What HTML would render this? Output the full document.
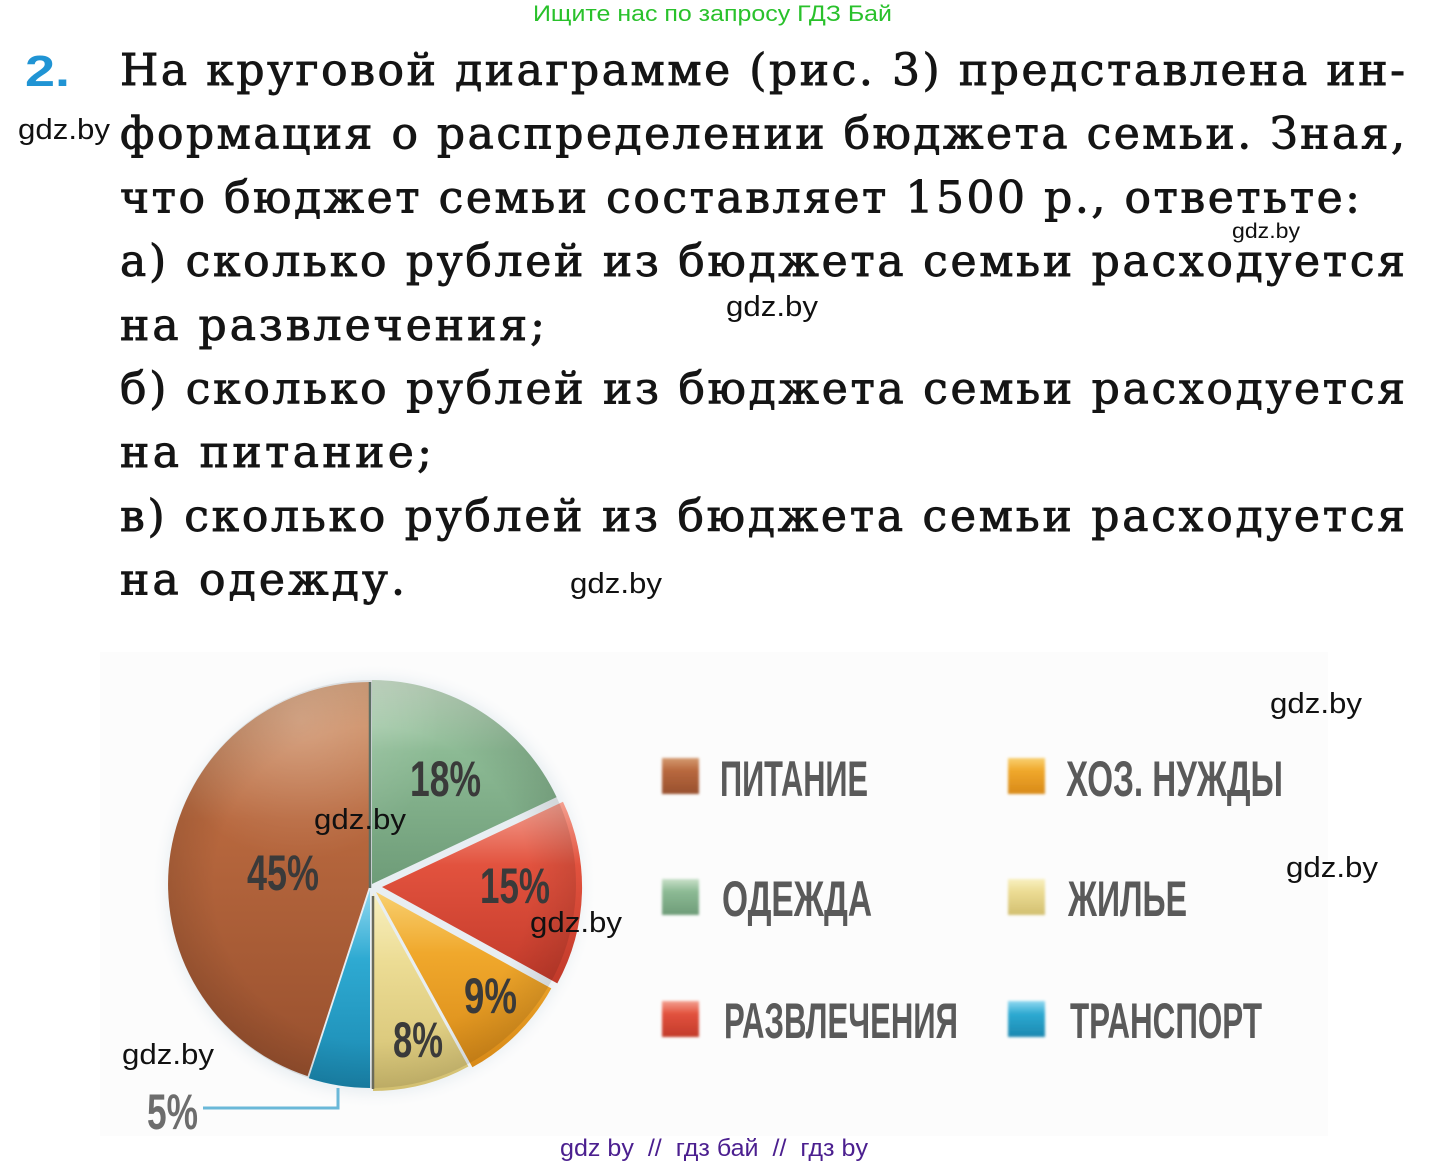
<!DOCTYPE html>
<html><head><meta charset="utf-8"><style>
html,body{margin:0;padding:0;background:#fff;}
svg{display:block;}
.t{font-family:"DejaVu Serif","Liberation Serif",serif;font-size:44px;fill:#151515;stroke:#151515;stroke-width:0.9px;}
.w{font-family:"Liberation Sans",sans-serif;font-size:29px;fill:#111;}
.lg{font-family:"Liberation Sans Narrow","Liberation Sans",sans-serif;font-weight:bold;font-size:50px;fill:#5a5a5a;}
.pl{font-family:"Liberation Sans Narrow","Liberation Sans",sans-serif;font-weight:bold;font-size:50px;fill:#3a3a3a;}
</style></head><body>
<svg width="1430" height="1165" viewBox="0 0 1430 1165" xmlns="http://www.w3.org/2000/svg">
<defs>
<radialGradient id="shade" cx="372" cy="884" r="210" gradientUnits="userSpaceOnUse">
<stop offset="0" stop-color="#000" stop-opacity="0"/>
<stop offset="0.75" stop-color="#000" stop-opacity="0"/>
<stop offset="1" stop-color="#000" stop-opacity="0.12"/>
</radialGradient>
<radialGradient id="hl" cx="300" cy="720" r="140" gradientUnits="userSpaceOnUse">
<stop offset="0" stop-color="#fff" stop-opacity="0.22"/>
<stop offset="1" stop-color="#fff" stop-opacity="0"/>
</radialGradient>
<filter id="bl" x="-20%" y="-20%" width="140%" height="140%"><feGaussianBlur stdDeviation="7"/></filter>
<filter id="sb" x="-30%" y="-30%" width="160%" height="160%"><feGaussianBlur stdDeviation="1.2"/></filter>
<linearGradient id="gBr" x1="0" y1="0" x2="0" y2="1"><stop offset="0" stop-color="#d49a70"/><stop offset="0.35" stop-color="#b8683e"/><stop offset="1" stop-color="#98502e"/></linearGradient>
<linearGradient id="gOr" x1="0" y1="0" x2="0" y2="1"><stop offset="0" stop-color="#f8d070"/><stop offset="0.35" stop-color="#f0a82c"/><stop offset="1" stop-color="#d88a18"/></linearGradient>
<linearGradient id="gGr" x1="0" y1="0" x2="0" y2="1"><stop offset="0" stop-color="#c8e0c8"/><stop offset="0.35" stop-color="#8cba94"/><stop offset="1" stop-color="#6e9c78"/></linearGradient>
<linearGradient id="gYe" x1="0" y1="0" x2="0" y2="1"><stop offset="0" stop-color="#f8f0c0"/><stop offset="0.35" stop-color="#ecdc94"/><stop offset="1" stop-color="#d2bf70"/></linearGradient>
<linearGradient id="gRe" x1="0" y1="0" x2="0" y2="1"><stop offset="0" stop-color="#f4a090"/><stop offset="0.35" stop-color="#e2523e"/><stop offset="1" stop-color="#c23a2a"/></linearGradient>
<linearGradient id="gBl" x1="0" y1="0" x2="0" y2="1"><stop offset="0" stop-color="#90d8f0"/><stop offset="0.35" stop-color="#2eaad2"/><stop offset="1" stop-color="#1a88b0"/></linearGradient>
</defs>

<!-- header -->
<text x="533" y="21" font-family="Liberation Sans, sans-serif" font-size="22" fill="#29c12b" textLength="359" lengthAdjust="spacingAndGlyphs">Ищите нас по запросу ГДЗ Бай</text>

<!-- number -->
<text x="25" y="86" font-family="Liberation Sans, sans-serif" font-weight="bold" font-size="44" fill="#2094d4" textLength="45" lengthAdjust="spacingAndGlyphs">2.</text>

<!-- body text -->
<text class="t" x="120" y="85" textLength="1285" lengthAdjust="spacing">На круговой диаграмме (рис. 3) представлена ин-</text>
<text class="t" x="120" y="148.7" textLength="1285" lengthAdjust="spacing">формация о распределении бюджета семьи. Зная,</text>
<text class="t" x="120" y="212.4" textLength="1240" lengthAdjust="spacing">что бюджет семьи составляет 1500 р., ответьте:</text>
<text class="t" x="120" y="276.1" textLength="1285" lengthAdjust="spacing">а) сколько рублей из бюджета семьи расходуется</text>
<text class="t" x="120" y="339.8" textLength="425" lengthAdjust="spacing">на развлечения;</text>
<text class="t" x="120" y="403.5" textLength="1285" lengthAdjust="spacing">б) сколько рублей из бюджета семьи расходуется</text>
<text class="t" x="120" y="467.2" textLength="312" lengthAdjust="spacing">на питание;</text>
<text class="t" x="120" y="530.9" textLength="1285" lengthAdjust="spacing">в) сколько рублей из бюджета семьи расходуется</text>
<text class="t" x="120" y="594.6" textLength="285" lengthAdjust="spacing">на одежду.</text>

<!-- chart background -->
<rect x="100" y="652" width="1228" height="484" fill="#fcfcfc"/>

<!-- pie halo -->
<circle cx="374" cy="886" r="208" fill="#e8eef2" filter="url(#bl)"/>

<!-- slices -->
<path d="M370,884 L307.6,1076.1 A202,202 0 0 1 370,682 Z" fill="url(#gBr)"/>
<path d="M372,884 L372,680 A204,204 0 0 1 556.6,797.1 Z" fill="url(#gGr)"/>
<path d="M382,887 L563,801.8 A200,200 0 0 1 557.3,983.4 Z" fill="url(#gRe)"/>
<path d="M376,892 L551.3,988.4 A200,200 0 0 1 472.4,1067.3 Z" fill="url(#gOr)"/>
<path d="M373,893 L468.4,1066.5 A198,198 0 0 1 373,1091 Z" fill="url(#gYe)"/>
<path d="M370,890 L370,1088 A198,198 0 0 1 308.8,1078.3 Z" fill="url(#gBl)"/>
<circle cx="372" cy="884" r="204" fill="url(#shade)"/>
<circle cx="372" cy="884" r="204" fill="url(#hl)"/>
<line x1="370" y1="682" x2="370" y2="888" stroke="#5d6e64" stroke-width="2.5"/>
<line x1="373" y1="896" x2="373" y2="1089" stroke="#6a6a5a" stroke-width="2.5"/>

<!-- leader line for 5% -->
<polyline points="203,1108 338,1108 338,1088" fill="none" stroke="#6ab8d8" stroke-width="3"/>

<!-- pie labels -->
<text class="pl" x="410" y="796" textLength="71" lengthAdjust="spacingAndGlyphs">18%</text>
<text class="pl" x="247" y="890" textLength="72" lengthAdjust="spacingAndGlyphs">45%</text>
<text class="pl" x="480" y="903" textLength="70" lengthAdjust="spacingAndGlyphs">15%</text>
<text class="pl" x="464" y="1013" textLength="53" lengthAdjust="spacingAndGlyphs">9%</text>
<text class="pl" x="393" y="1057" textLength="50" lengthAdjust="spacingAndGlyphs">8%</text>
<text class="pl" x="147" y="1129" textLength="51" lengthAdjust="spacingAndGlyphs" style="fill:#6d6d6d">5%</text>

<!-- legend squares -->
<g filter="url(#sb)">
<rect x="662" y="758" width="37" height="36" fill="url(#gBr)"/>
<rect x="1008" y="758" width="37" height="36" fill="url(#gOr)"/>
<rect x="662" y="879" width="37" height="36" fill="url(#gGr)"/>
<rect x="1008" y="879" width="37" height="36" fill="url(#gYe)"/>
<rect x="662" y="1001" width="37" height="36" fill="url(#gRe)"/>
<rect x="1008" y="1001" width="37" height="36" fill="url(#gBl)"/>
</g>

<!-- legend text -->
<text class="lg" x="720" y="796" textLength="148" lengthAdjust="spacingAndGlyphs">ПИТАНИЕ</text>
<text class="lg" x="1066" y="796" textLength="217" lengthAdjust="spacingAndGlyphs">ХОЗ. НУЖДЫ</text>
<text class="lg" x="722" y="916" textLength="150" lengthAdjust="spacingAndGlyphs">ОДЕЖДА</text>
<text class="lg" x="1068" y="916" textLength="119" lengthAdjust="spacingAndGlyphs">ЖИЛЬЕ</text>
<text class="lg" x="724" y="1038" textLength="234" lengthAdjust="spacingAndGlyphs">РАЗВЛЕЧЕНИЯ</text>
<text class="lg" x="1070" y="1038" textLength="192" lengthAdjust="spacingAndGlyphs">ТРАНСПОРТ</text>

<!-- watermarks -->
<text class="w" x="18" y="139" textLength="92" lengthAdjust="spacingAndGlyphs">gdz.by</text>
<text class="w" x="1232" y="238" style="font-size:21px" textLength="68" lengthAdjust="spacingAndGlyphs">gdz.by</text>
<text class="w" x="726" y="316" textLength="92" lengthAdjust="spacingAndGlyphs">gdz.by</text>
<text class="w" x="570" y="593" textLength="92" lengthAdjust="spacingAndGlyphs">gdz.by</text>
<text class="w" x="1270" y="713" textLength="92" lengthAdjust="spacingAndGlyphs">gdz.by</text>
<text class="w" x="314" y="829" textLength="92" lengthAdjust="spacingAndGlyphs">gdz.by</text>
<text class="w" x="1286" y="877" textLength="92" lengthAdjust="spacingAndGlyphs">gdz.by</text>
<text class="w" x="530" y="932" textLength="92" lengthAdjust="spacingAndGlyphs">gdz.by</text>
<text class="w" x="122" y="1064" textLength="92" lengthAdjust="spacingAndGlyphs">gdz.by</text>

<!-- footer -->
<text x="560" y="1156" font-family="Liberation Sans, sans-serif" font-size="24" fill="#4b1f8f" style="white-space:pre" textLength="308" lengthAdjust="spacingAndGlyphs">gdz by  //  гдз бай  //  гдз by</text>
</svg>
</body></html>
